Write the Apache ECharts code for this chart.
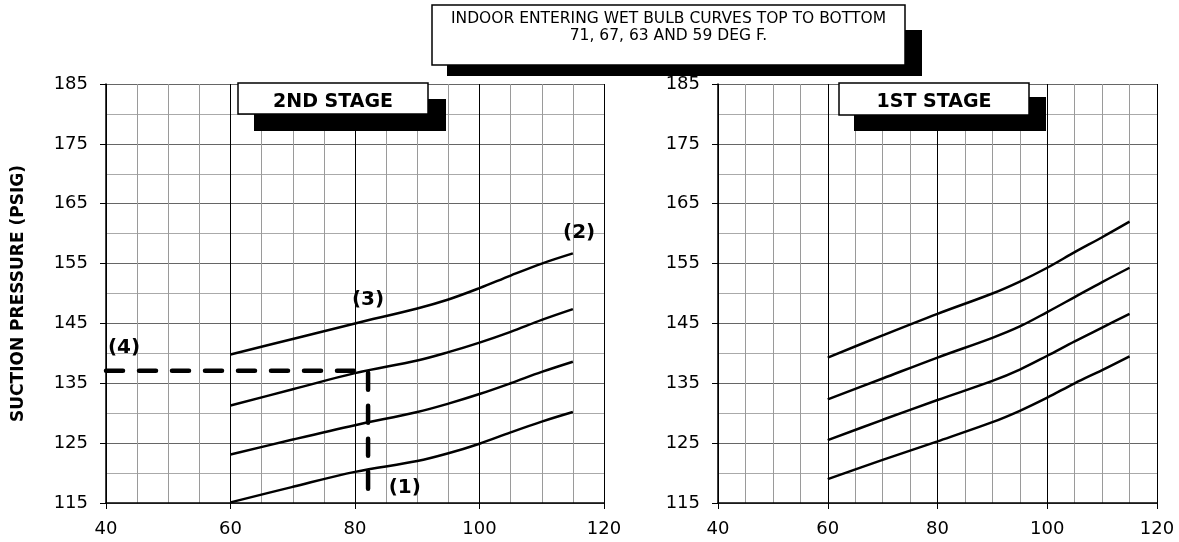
<!DOCTYPE html>
<html>
<head>
<meta charset="utf-8">
<script src="https://cdn.jsdelivr.net/npm/echarts@6/dist/echarts.min.js"></script>
<style>
  html, body { margin: 0; padding: 0; background: #fff; }
  #chart { width: 1179px; height: 542px; }
</style>
</head>
<body>
<div id="chart"></div>
<script>
// outdoor temp (deg F) where the curves were read
var xTemps = [60, 70, 80, 90, 95, 100, 105, 110, 115];

// 2nd stage, indoor wet bulb 71 / 67 / 63 / 59
var stage2_71 = [139.8, 142.4, 145.0, 147.5, 149.0, 150.9, 153.0, 155.0, 156.7];
var stage2_67 = [131.3, 134.0, 136.7, 138.8, 140.2, 141.8, 143.6, 145.6, 147.4];
var stage2_63 = [123.1, 125.6, 128.0, 130.2, 131.6, 133.2, 135.0, 136.9, 138.6];
var stage2_59 = [115.1, 117.7, 120.2, 122.0, 123.3, 124.9, 126.8, 128.6, 130.2];

// 1st stage
var stage1_71 = [139.3, 143.0, 146.6, 150.0, 152.0, 154.3, 156.9, 159.4, 162.0];
var stage1_67 = [132.3, 135.8, 139.3, 142.6, 144.5, 146.9, 149.4, 151.9, 154.3];
var stage1_63 = [125.5, 128.9, 132.2, 135.4, 137.3, 139.6, 142.0, 144.3, 146.6];
var stage1_59 = [119.0, 122.2, 125.3, 128.5, 130.4, 132.6, 135.0, 137.2, 139.5];

// example read-off (dashed)
var exampleX = [40, 82.1, 82.1];
var exampleY = [137.1, 137.1, 115];

// callout labels
var calloutText = ['(1)', '(2)', '(3)', '(4)'];
var calloutX = [88.0, 116.0, 82.1, 42.9];
var calloutY = [117.6, 160.2, 148.9, 141.0];

var FONT = '"DejaVu Sans", Verdana, sans-serif';

function pairs(xs, ys) {
    var out = [];
    for (var i = 0; i < xs.length; i++) {
        out.push([xs[i], ys[i]]);
    }
    return out;
}

function curve(idx, ys) {
    return {
        type: 'line',
        xAxisIndex: idx,
        yAxisIndex: idx,
        data: pairs(xTemps, ys),
        smooth: 0.35,
        symbol: 'none',
        lineStyle: {color: '#000', width: 2.5},
        z: 5
    };
}

function xAxisFor(idx) {
    return {
        type: 'value',
        gridIndex: idx,
        min: 40,
        max: 120,
        interval: 20,
        axisLine: {show: true, onZero: false, lineStyle: {color: '#000', width: 1.5}},
        axisTick: {show: true, length: 6, lineStyle: {color: '#000'}},
        axisLabel: {color: '#000', fontSize: 18, fontFamily: FONT, margin: 17},
        splitLine: {show: true, lineStyle: {color: '#000', width: 1}},
        minorTick: {show: false, splitNumber: 4},
        minorSplitLine: {show: true, lineStyle: {color: '#9a9a9a', width: 1}}
    };
}

function yAxisFor(idx, withName) {
    var ax = {
        type: 'value',
        gridIndex: idx,
        min: 115,
        max: 185,
        interval: 10,
        axisLine: {show: true, onZero: false, lineStyle: {color: '#000', width: 1.5}},
        axisTick: {show: true, length: 6, lineStyle: {color: '#000'}},
        axisLabel: {color: '#000', fontSize: 18, fontFamily: FONT, margin: 18},
        splitLine: {show: true, lineStyle: {color: '#666', width: 1}},
        minorTick: {show: false, splitNumber: 2},
        minorSplitLine: {show: true, lineStyle: {color: '#aaa', width: 1}}
    };
    if (withName) {
        ax.name = 'SUCTION PRESSURE (PSIG)';
        ax.nameLocation = 'middle';
        ax.nameGap = 79;
        ax.nameRotate = 90;
        ax.nameTextStyle = {color: '#000', fontSize: 17, fontWeight: 'bold', fontFamily: FONT};
    }
    return ax;
}

function shadowBox(x, y, w, h, dx, dy, dh, txt, fontSize, bold, textY, lineHeight) {
    return [
        {
            type: 'rect',
            shape: {x: x + dx, y: y + dy, width: w + 2, height: dh},
            style: {fill: '#000'},
            z: 20
        },
        {
            type: 'rect',
            shape: {x: x, y: y, width: w, height: h},
            style: {fill: '#fff', stroke: '#000', lineWidth: 1.5},
            z: 21
        },
        {
            type: 'text',
            x: x + w / 2,
            y: textY,
            style: {
                text: txt,
                fill: '#000',
                font: (bold ? 'bold ' : '') + fontSize + 'px ' + FONT,
                align: 'center',
                verticalAlign: 'middle',
                lineHeight: lineHeight
            },
            z: 22
        }
    ];
}

var chart = echarts.init(document.getElementById('chart'), null, {renderer: 'canvas'});

var graphics = []
    .concat(shadowBox(432, 5, 473, 60, 15, 25, 46,
        'INDOOR ENTERING WET BULB CURVES TOP TO BOTTOM\n71, 67, 63 AND 59 DEG F.', 15.5, false, 27, 17))
    .concat(shadowBox(238, 83, 190, 31, 16, 16, 32, '2ND STAGE', 19, true, 102, 22))
    .concat(shadowBox(839, 83, 190, 32, 15, 14, 34, '1ST STAGE', 19, true, 102, 22));

chart.setOption({
    animation: false,
    backgroundColor: '#fff',
    grid: [
        {left: 106, top: 84, width: 498, height: 419},
        {left: 718, top: 84, width: 439, height: 419}
    ],
    xAxis: [xAxisFor(0), xAxisFor(1)],
    yAxis: [yAxisFor(0, true), yAxisFor(1, false)],
    series: [
        curve(0, stage2_71),
        curve(0, stage2_67),
        curve(0, stage2_63),
        curve(0, stage2_59),
        curve(1, stage1_71),
        curve(1, stage1_67),
        curve(1, stage1_63),
        curve(1, stage1_59),
        {
            type: 'line',
            xAxisIndex: 0,
            yAxisIndex: 0,
            data: pairs(exampleX, exampleY),
            symbol: 'none',
            lineStyle: {color: '#000', width: 4.5, type: [17, 16], cap: 'round'},
            z: 6
        },
        {
            type: 'scatter',
            xAxisIndex: 0,
            yAxisIndex: 0,
            symbolSize: 1,
            itemStyle: {color: '#fff', opacity: 0},
            data: calloutText.map(function(t, i) {
                return {name: t, value: [calloutX[i], calloutY[i]]};
            }),
            label: {
                show: true,
                position: 'inside',
                formatter: function(p) { return p.name; },
                color: '#000',
                textBorderWidth: 0,
                opacity: 1,
                fontSize: 20,
                fontWeight: 'bold',
                fontFamily: FONT
            },
            z: 7
        }
    ],
    graphic: graphics
});
</script>
</body>
</html>
